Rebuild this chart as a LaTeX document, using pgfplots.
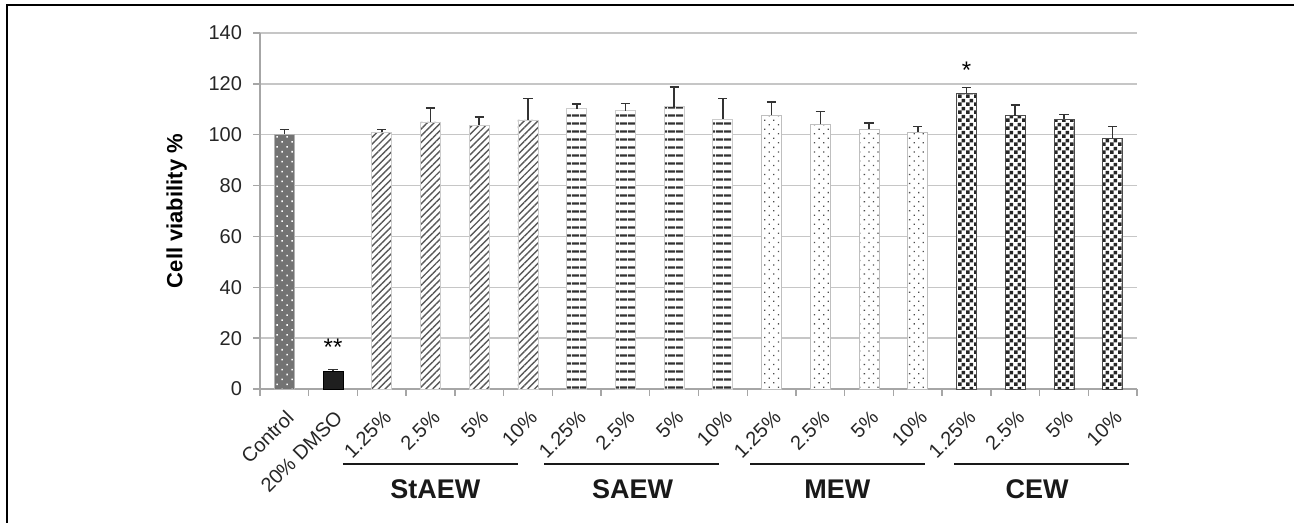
\documentclass[border=0pt]{standalone}
\usepackage{fontspec}
\setmainfont{Liberation Sans}
\usepackage{pgfplots}
\pgfplotsset{compat=1.18}
\usetikzlibrary{patterns,patterns.meta}

\tikzdeclarepattern{name=mychecker, type=uncolored,
  bounding box={(0,0) and (3.8pt,3.8pt)}, tile size={(3.8pt,3.8pt)},
  code={\fill (0,0) rectangle (1.9pt,1.9pt); \fill (1.9pt,1.9pt) rectangle (3.8pt,3.8pt);}}

\pgfplotsset{
  mybar/.style={ybar, bar width=10pt, bar shift=0pt,
    error bars/y dir=plus, error bars/y explicit,
    error bars/error bar style={black!80, line width=0.8pt},
    error bars/error mark options={rotate=90, mark size=2.3pt, line width=0.8pt, black!80}},
}

\begin{document}
\begin{tikzpicture}
\useasboundingbox (-130pt,-67pt) rectangle (517pt,194.5pt);
\draw[line width=1.2pt] (-126.5pt,-67pt) -- (-126.5pt,192pt) -- (517pt,192pt);
\begin{axis}[
  at={(0,0)}, anchor=south west,
  scale only axis, width=438.5pt, height=178pt,
  xmin=-0.5, xmax=17.5, ymin=0, ymax=140,
  ytick={0,20,...,140},
  minor ytick={0,20,...,140},
  axis lines*=left,
  axis line style={gray!70, line width=0.8pt},
  ymajorgrids, grid style={gray!45, line width=0.7pt},
  xtick={0,...,17},
  xticklabels={Control,20\% DMSO,1.25\%,2.5\%,5\%,10\%,1.25\%,2.5\%,5\%,10\%,1.25\%,2.5\%,5\%,10\%,1.25\%,2.5\%,5\%,10\%},
  minor xtick={-0.5,0.5,...,17.5},
  minor tick style={gray!70, line width=0.7pt},
  tick align=outside,
  major tick length=0pt, minor tick length=3.3pt,
  ticklabel style={font=\fontsize{10}{12}\selectfont, text=black!85},
  /pgf/number format/assume math mode=true,
  yticklabel style={xshift=-5.5pt},
  xticklabel style={xshift=3pt, yshift=-12.5pt, rotate=45, anchor=east, inner sep=0pt},
  ylabel={\bfseries Cell viability \%},
  ylabel style={font=\fontsize{11}{13}\selectfont},
  ylabel shift=4pt,
  clip=false,
]
% Control
\addplot[mybar, fill=black!55, draw=gray!60,
  postaction={pattern={Dots[distance=3.5pt, radius=0.55pt, angle=45]}, pattern color=white}]
  coordinates {(0,100.2) +- (0,1.9)};
% 20% DMSO
\addplot[mybar, fill=black!88, draw=black]
  coordinates {(1,7.0) +- (0,0.7)};
% StAEW
\addplot[mybar, fill=white, draw=gray!40,
  postaction={pattern={Lines[angle=45, distance=2.4pt, line width=0.7pt]}, pattern color=black!65}]
  coordinates {(2,100.9) +- (0,1.1) (3,105.0) +- (0,5.4) (4,103.7) +- (0,3.3) (5,105.8) +- (0,8.5)};
% SAEW
\addplot[mybar, fill=white, draw=gray!40,
  postaction={pattern={Lines[angle=0, distance=4pt, line width=1.3pt]}, pattern color=black!80}]
  coordinates {(6,110.2) +- (0,1.8) (7,109.4) +- (0,2.9) (8,111.0) +- (0,7.8) (9,106.2) +- (0,8.0)};
% MEW
\addplot[mybar, fill=white, draw=gray!50,
  postaction={pattern={Dots[distance=3.2pt, radius=0.45pt, angle=45]}, pattern color=black!70}]
  coordinates {(10,107.6) +- (0,5.3) (11,104.1) +- (0,5.1) (12,102.1) +- (0,2.6) (13,101.1) +- (0,2.1)};
% CEW
\addplot[mybar, fill=white, draw=black!70,
  postaction={pattern=mychecker, pattern color=black!85}]
  coordinates {(14,116.3) +- (0,2.2) (15,107.4) +- (0,4.2) (16,106.1) +- (0,1.9) (17,98.7) +- (0,4.5)};

\node[font=\fontsize{12}{13}\selectfont] at (axis cs:1,16.5) {**};
\node[font=\fontsize{12}{13}\selectfont] at (axis cs:14,125.5) {*};

\draw[line width=1.3pt, black!90] (axis cs:1.2,-29.5) -- (axis cs:4.8,-29.5);
\draw[line width=1.3pt, black!90] (axis cs:5.33,-29.5) -- (axis cs:8.92,-29.5);
\draw[line width=1.3pt, black!90] (axis cs:9.56,-29.5) -- (axis cs:13.15,-29.5);
\draw[line width=1.3pt, black!90] (axis cs:13.75,-29.5) -- (axis cs:17.34,-29.5);
\node[font=\fontsize{13.5}{15}\selectfont\bfseries, text=black!90] at (axis cs:3.1,-39.3) {StAEW};
\node[font=\fontsize{13.5}{15}\selectfont\bfseries, text=black!90] at (axis cs:7.15,-39.3) {SAEW};
\node[font=\fontsize{13.5}{15}\selectfont\bfseries, text=black!90] at (axis cs:11.35,-39.3) {MEW};
\node[font=\fontsize{13.5}{15}\selectfont\bfseries, text=black!90] at (axis cs:15.45,-39.3) {CEW};
\end{axis}
\end{tikzpicture}
\end{document}
